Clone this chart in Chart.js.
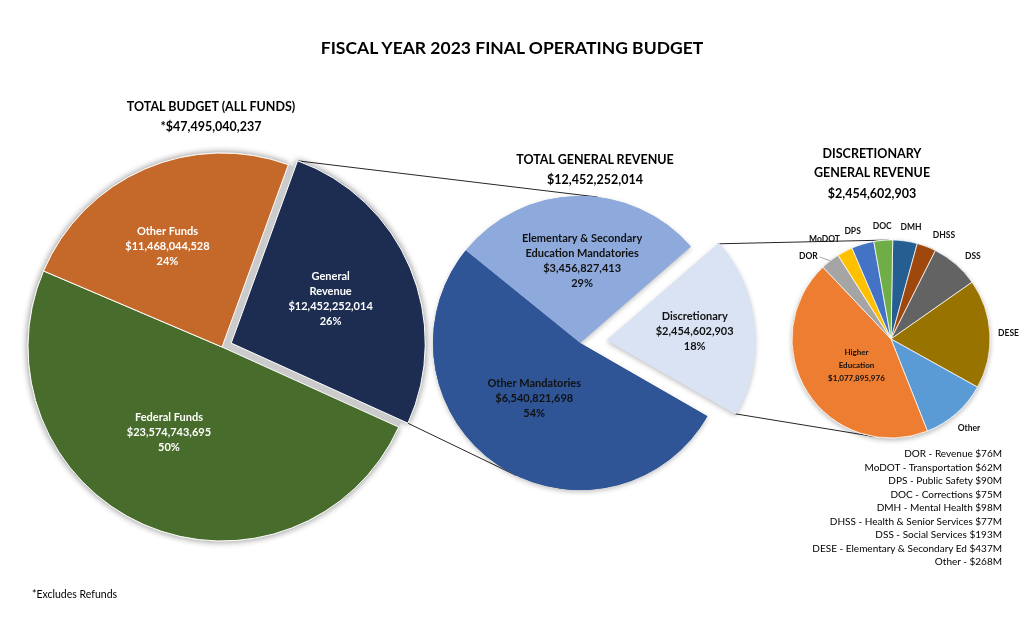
<!DOCTYPE html>
<html>
<head>
<meta charset="utf-8">
<script src="https://cdn.jsdelivr.net/npm/chart.js@4.4.0/dist/chart.umd.min.js"></script>
<style>
  html, body { margin: 0; padding: 0; background: #fff; }
  body { width: 1024px; height: 622px; position: relative; overflow: hidden; font-family: Lato, 'Open Sans', sans-serif; color: #000; }
  canvas { position: absolute; left: 0; top: 0; }
  .t { position: absolute; transform: translate(-50%, -50%); white-space: nowrap; font-weight: bold; text-align: center; line-height: 1; }
  #legend { position: absolute; right: 22px; top: 447px; text-align: right; font-size: 10px; line-height: 13.5px; }
  #note { position: absolute; left: 32px; top: 588px; font-size: 10.5px; }
</style>
</head>
<body>
<canvas id="links" width="1024" height="622"></canvas>
<canvas id="fundsChart" width="1024" height="622"></canvas>
<canvas id="revenueChart" width="1024" height="622"></canvas>
<canvas id="discChart" width="1024" height="622"></canvas>

<div class="t" style="left:512px; top:48px; font-size:17.5px">FISCAL YEAR 2023 FINAL OPERATING BUDGET</div>
<div class="t" style="left:211px; top:107px; font-size:12.5px">TOTAL BUDGET (ALL FUNDS)</div>
<div class="t" id="totalBudget" style="left:211px; top:127px; font-size:12.5px"></div>
<div class="t" style="left:595px; top:160px; font-size:12.5px">TOTAL GENERAL REVENUE</div>
<div class="t" id="totalRevenue" style="left:595px; top:180px; font-size:12.5px"></div>
<div class="t" style="left:872px; top:154px; font-size:12.5px">DISCRETIONARY</div>
<div class="t" style="left:872px; top:173px; font-size:12.5px">GENERAL REVENUE</div>
<div class="t" id="totalDisc" style="left:872px; top:194px; font-size:12.5px"></div>
<div id="legend"></div>
<div id="note">*Excludes Refunds</div>

<script>
// === DATA ===
const fundLabels = [['General', 'Revenue'], ['Federal Funds'], ['Other Funds']];
const fundValues = [12452252014, 23574743695, 11468044528];
const fundPercents = ['26%', '50%', '24%'];
const fundColors = ['#1c2d51', '#486c2b', '#c5692a'];

const revenueLabels = [['Elementary & Secondary', 'Education Mandatories'], ['Discretionary'], ['Other Mandatories']];
const revenueValues = [3456827413, 2454602903, 6540821698];
const revenuePercents = ['29%', '18%', '54%'];
const revenueColors = ['#8eaadc', '#dae3f3', '#2f5597'];

const discCodes = ['DMH', 'DHSS', 'DSS', 'DESE', 'Other', 'Higher Education', 'DOR', 'MoDOT', 'DPS', 'DOC'];
const discValues = [98e6, 77e6, 193e6, 437e6, 268e6, 1077895976, 76e6, 62e6, 90e6, 75e6];
const discNames = ['Mental Health', 'Health & Senior Services', 'Social Services', 'Elementary & Secondary Ed', '', '', 'Revenue', 'Transportation', 'Public Safety', 'Corrections'];
const discColors = ['#255e91', '#9e480e', '#636363', '#997300', '#5b9bd5', '#ed7d31', '#a5a5a5', '#ffc000', '#4472c4', '#70ad47'];
const legendOrder = ['DOR', 'MoDOT', 'DPS', 'DOC', 'DMH', 'DHSS', 'DSS', 'DESE', 'Other'];

const W = 1024, H = 622;

function money(v) {
  return '$' + Math.round(v).toString().replace(/\B(?=(\d{3})+(?!\d))/g, ',');
}
const sum = arr => arr.reduce((a, b) => a + b, 0);

// === HEADINGS / LEGEND TEXT ===
document.getElementById('totalBudget').textContent = '*' + money(sum(fundValues));
document.getElementById('totalRevenue').textContent = money(sum(revenueValues));
document.getElementById('totalDisc').textContent = money(revenueValues[1]);
document.getElementById('legend').innerHTML = legendOrder.map(code => {
  const i = discCodes.indexOf(code);
  const name = discNames[i] ? discNames[i] + ' ' : '';
  return code + ' - ' + name + '$' + Math.round(discValues[i] / 1e6) + 'M';
}).join('<br>');

// === GEOMETRY HELPERS ===
// chart area is a box round the pie centre, big enough that chart.js keeps a real cutout value
function padAround(cx, cy) {
  const half = 125;
  return { left: cx - half, right: W - cx - half, top: cy - half, bottom: H - cy - half };
}
// chart.js moves an exploded arc by offset / 4 along its middle angle
function arcPoint(arc, dist, angle) {
  const mid = (arc.startAngle + arc.endAngle) / 2;
  const s = (arc.options.offset || 0) / 4;
  const a = angle === undefined ? mid : angle;
  return {
    x: arc.x + Math.cos(mid) * s + Math.cos(a) * dist,
    y: arc.y + Math.sin(mid) * s + Math.sin(a) * dist
  };
}
function tangentPoint(p, c, r, lower) {
  const d = Math.hypot(p.x - c.x, p.y - c.y);
  const base = Math.atan2(p.y - c.y, p.x - c.x);
  const t = Math.acos(r / d);
  const q1 = { x: c.x + r * Math.cos(base + t), y: c.y + r * Math.sin(base + t) };
  const q2 = { x: c.x + r * Math.cos(base - t), y: c.y + r * Math.sin(base - t) };
  return (lower ? q1.y > q2.y : q1.y < q2.y) ? q1 : q2;
}
const DEG = Math.PI / 180;

// === PLUGINS ===
function pieShadow(s) {
  return {
    id: 'pieShadow',
    beforeDatasetsDraw(chart) {
      const ctx = chart.ctx;
      const arcs = chart.getDatasetMeta(0).data;
      ctx.save();
      ctx.shadowColor = s.color;
      ctx.shadowBlur = s.blur;
      ctx.shadowOffsetY = s.dy || 0;
      arcs.forEach(a => a.draw(ctx));
      ctx.restore();
      if (s.base) {
        ctx.save();
        ctx.fillStyle = s.base;
        ctx.beginPath();
        ctx.arc(arcs[0].x, arcs[0].y, arcs[0].outerRadius, 0, Math.PI * 2);
        ctx.fill();
        ctx.restore();
      }
    }
  };
}

function sliceLabels(cfg) {
  return {
    id: 'sliceLabels',
    afterDatasetsDraw(chart) {
      const ctx = chart.ctx;
      const arcs = chart.getDatasetMeta(0).data;
      ctx.save();
      ctx.textAlign = 'center';
      ctx.textBaseline = 'middle';
      arcs.forEach((arc, i) => {
        const lines = cfg.lines(i);
        const mid = (arc.startAngle + arc.endAngle) / 2;
        if (lines) {
          // [fraction of radius, angle shift in degrees]
          const place = cfg.place[i] || [0.55, 0];
          const p = arcPoint(arc, place[0] * arc.outerRadius, mid + place[1] * DEG);
          ctx.font = cfg.font;
          ctx.fillStyle = cfg.color;
          const top = p.y - (lines.length - 1) * cfg.lh / 2;
          lines.forEach((s, k) => ctx.fillText(s, p.x, top + k * cfg.lh));
        } else if (cfg.outside) {
          const o = cfg.outside;
          const text = chart.data.labels[i];
          ctx.font = o.font;
          ctx.fillStyle = o.color;
          const w = ctx.measureText(text).width, h = o.h;
          const a = mid + (o.nudge[text] || 0) * DEG;
          const ext = Math.abs(Math.cos(a)) * w / 2 + Math.abs(Math.sin(a)) * h / 2;
          const p = arcPoint(arc, arc.outerRadius + o.pad + ext, a);
          ctx.fillText(text, p.x, p.y);
          if (o.leader.includes(text)) {
            const q = arcPoint(arc, arc.outerRadius, mid);
            ctx.strokeStyle = '#a6a6a6';
            ctx.lineWidth = 1;
            ctx.beginPath();
            ctx.moveTo(p.x + w / 2 + 2, p.y + 1);
            ctx.lineTo(q.x, q.y);
            ctx.stroke();
          }
        }
      });
      ctx.restore();
    }
  };
}

function pieChart(id, labels, values, colors, opt) {
  return new Chart(document.getElementById(id), {
    type: 'pie',
    data: {
      labels: labels,
      datasets: [{
        data: values,
        backgroundColor: colors,
        borderColor: '#fff',
        borderWidth: opt.border,
        offset: opt.offset,
        clip: false
      }]
    },
    options: {
      responsive: false,
      animation: false,
      events: [],
      rotation: opt.rotation,
      radius: opt.radius,
      layout: { padding: padAround(opt.cx, opt.cy) },
      plugins: { legend: { display: false }, tooltip: { enabled: false } }
    },
    plugins: [pieShadow(opt.shadow), sliceLabels(opt.labels)]
  });
}

// === CHARTS ===
const fundsChart = pieChart('fundsChart', fundLabels, fundValues, fundColors, {
  cx: 222, cy: 347, radius: 194, rotation: 20, border: 1,
  offset: [40, 0, 0],
  shadow: { color: 'rgba(0,0,0,0.45)', blur: 7, base: '#cbcbcb' },
  labels: { font: 'bold 11px Lato', color: '#fff', lh: 15,
    place: [[0.56, -1], [0.52, 8], [0.59, -5]],
    lines: i => [...fundLabels[i], money(fundValues[i]), fundPercents[i]] }
});

const revenueChart = pieChart('revenueChart', revenueLabels, revenueValues, revenueColors, {
  cx: 580, cy: 343, radius: 147, rotation: -51, border: 0,
  offset: [0, 108, 0],
  shadow: { color: 'rgba(0,0,0,0.25)', blur: 5, dy: 2 },
  labels: { font: 'bold 11px Lato', color: '#111', lh: 15,
    place: [[0.555, 2.5], [0.6, 0], [0.49, 5]],
    lines: i => [...revenueLabels[i], money(revenueValues[i]), revenuePercents[i]] }
});

const discChart = pieChart('discChart', discCodes, discValues, discColors, {
  cx: 891, cy: 339, radius: 99, rotation: 1, border: 0.75,
  offset: 0,
  shadow: { color: 'rgba(0,0,0,0.25)', blur: 5, dy: 2 },
  labels: { font: 'bold 8px Lato', color: '#111', lh: 13,
    place: { 5: [0.44, -5] },
    lines: i => discCodes[i] === 'Higher Education' ? ['Higher', 'Education', money(discValues[i])] : null,
    outside: { font: 'bold 8.5px Lato', color: '#111', h: 10, pad: 8,
      nudge: { DOR: -7, MoDOT: -6, DPS: -3, DMH: 2, DHSS: 6, DSS: 4 }, leader: ['DOR'] } }
});

// === CONNECTOR LINES ===
function drawLinks() {
  const ctx = document.getElementById('links').getContext('2d');
  const gr = fundsChart.getDatasetMeta(0).data[0];
  const mid = revenueChart.getDatasetMeta(0).data;
  const disc = mid[1];
  const small = discChart.getDatasetMeta(0).data[0];
  const midC = { x: mid[0].x, y: mid[0].y }, midR = mid[0].outerRadius;
  const smallC = { x: small.x, y: small.y }, smallR = small.outerRadius;

  const segs = [];
  const a1 = arcPoint(gr, gr.outerRadius, gr.startAngle);
  const a2 = arcPoint(gr, gr.outerRadius, gr.endAngle);
  segs.push([a1, tangentPoint(a1, midC, midR, false)]);
  segs.push([a2, tangentPoint(a2, midC, midR, true)]);
  const b1 = arcPoint(disc, disc.outerRadius, disc.startAngle);
  const b2 = arcPoint(disc, disc.outerRadius, disc.endAngle);
  segs.push([b1, tangentPoint(b1, smallC, smallR, false)]);
  segs.push([b2, tangentPoint(b2, smallC, smallR, true)]);

  ctx.strokeStyle = '#262626';
  ctx.lineWidth = 1;
  segs.forEach(([p, q]) => {
    ctx.beginPath();
    ctx.moveTo(p.x, p.y);
    ctx.lineTo(q.x, q.y);
    ctx.stroke();
  });
}
drawLinks();
</script>
</body>
</html>
